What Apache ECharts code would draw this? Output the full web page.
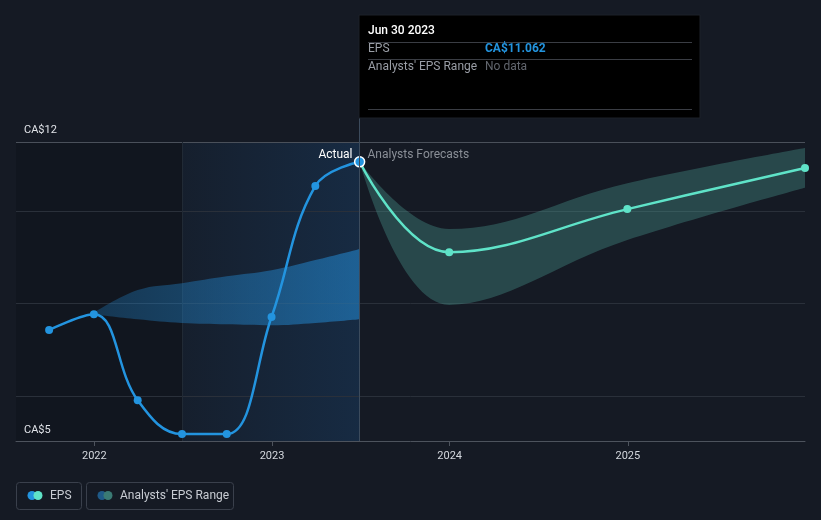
<!DOCTYPE html>
<html>
<head>
<meta charset="utf-8">
<script src="https://cdn.jsdelivr.net/npm/echarts@6/dist/echarts.min.js"></script>
<style>
html,body{margin:0;padding:0;background:#151a24;}
#chart{width:821px;height:520px;}
</style>
</head>
<body>
<div id="chart"></div>
<script>
// ---- data ----
const actualDates = ['2021-09-30','2021-12-31','2022-03-31','2022-06-30','2022-09-30','2022-12-31','2023-03-31','2023-06-30'];
const epsActual = [7.43, 7.77, 5.91, 5.18, 5.18, 7.71, 10.54, 11.062];
const forecastDates = ['2023-06-30','2023-12-31','2024-12-31','2025-12-31'];
const epsForecast = [11.062, 9.11, 10.04, 10.93];
const forecastLow = [11.062, 7.97, 9.37, 10.5];
const forecastHigh = [11.062, 9.61, 10.6, 11.36];
const pastRangeDates = ['2021-12-31','2022-03-31','2022-06-30','2022-09-30','2022-12-31','2023-03-31','2023-06-30'];
const pastRangeLow = [7.77, 7.66, 7.58, 7.55, 7.53, 7.58, 7.66];
const pastRangeHigh = [7.80, 8.29, 8.44, 8.59, 8.72, 8.94, 9.18];
const gridValues = [6, 8, 10];
const yMin = 5.03, yMax = 11.49;
const yLabelTop = 'CA$12', yLabelBottom = 'CA$5';
const xMin = '2021-07-24', xMax = '2025-12-31';
const pastStart = '2022-06-30', nowDate = '2023-06-30';

const ts = d => new Date(d + 'T00:00:00Z').getTime();
const pairs = (ds, vs) => ds.map((d, i) => [ts(d), vs[i]]);

const FONT = 'Roboto, "Noto Sans", sans-serif';
const BLUE = '#2394df', TEAL = '#5fe3c8';
const YEAR_MS = 365 * 24 * 3600 * 1000;

const chart = echarts.init(document.getElementById('chart'), null, {renderer: 'canvas', useUTC: true});

const option = {
  backgroundColor: '#151a24',
  animation: false,
  useUTC: true,
  textStyle: {fontFamily: FONT},
  grid: {left: 16, right: 16, top: 142, bottom: 79},
  xAxis: {
    type: 'time',
    min: ts(xMin), max: ts(xMax),
    minInterval: YEAR_MS,
    axisLine: {show: true, lineStyle: {color: '#4d535d', width: 1}},
    axisTick: {show: true, length: 5, lineStyle: {color: '#4d535d'}},
    axisLabel: {
      color: '#d4d8de', fontSize: 11, margin: 10, fontFamily: FONT,
      formatter: v => String(new Date(v).getUTCFullYear())
    },
    splitLine: {show: false}
  },
  yAxis: {
    type: 'value', min: yMin, max: yMax,
    axisLine: {show: false}, axisTick: {show: false}, axisLabel: {show: false},
    splitLine: {show: false}
  },
  series: [
    {
      type: 'line', data: [], silent: true, z: 1,
      markArea: {
        silent: true, z: 0,
        data: [
          [{xAxis: ts(xMin), itemStyle: {color: 'rgba(8,10,14,0.25)'}}, {xAxis: ts(pastStart)}],
          [{xAxis: ts(pastStart), itemStyle: {color: {type: 'linear', x: 0, y: 0, x2: 1, y2: 0,
            colorStops: [{offset: 0, color: 'rgba(30,110,190,0.06)'}, {offset: 1, color: 'rgba(30,110,190,0.2)'}]}}},
           {xAxis: ts(nowDate)}]
        ]
      },
      markLine: {
        silent: true, z: 1, symbol: 'none', label: {show: false},
        data: gridValues.map(v => ({yAxis: v, lineStyle: {color: '#2a303a', width: 1, type: 'solid'}}))
          .concat([{yAxis: yMax, lineStyle: {color: '#4a505a', width: 1, type: 'solid'}},
                   {xAxis: ts(pastStart), lineStyle: {color: '#212a35', width: 1, type: 'solid'}}])
      }
    },
    {
      name: 'pastLow', type: 'line', stack: 'past', smooth: 0.4, symbol: 'none', silent: true, z: 2,
      lineStyle: {opacity: 0}, data: pairs(pastRangeDates, pastRangeLow)
    },
    {
      name: 'pastRange', type: 'line', stack: 'past', smooth: 0.4, symbol: 'none', silent: true, z: 2,
      lineStyle: {opacity: 0},
      areaStyle: {color: {type: 'linear', x: 0, y: 0, x2: 1, y2: 0,
        colorStops: [{offset: 0, color: 'rgba(35,140,215,0.28)'}, {offset: 1, color: 'rgba(35,140,215,0.55)'}]}, opacity: 1},
      data: pairs(pastRangeDates, pastRangeHigh.map((v, i) => v - pastRangeLow[i]))
    },
    {
      name: 'fcLow', type: 'line', stack: 'fc', smooth: 0.4, symbol: 'none', silent: true, z: 2,
      lineStyle: {opacity: 0}, data: pairs(forecastDates, forecastLow)
    },
    {
      name: 'fcRange', type: 'line', stack: 'fc', smooth: 0.4, symbol: 'none', silent: true, z: 2,
      lineStyle: {opacity: 0},
      areaStyle: {color: 'rgba(80,170,160,0.32)', opacity: 1},
      data: pairs(forecastDates, forecastHigh.map((v, i) => v - forecastLow[i]))
    },
    {
      name: 'EPS forecast', type: 'line', smooth: 0.4, symbol: 'circle', symbolSize: 8, z: 3,
      showSymbol: true,
      lineStyle: {color: TEAL, width: 2.5}, itemStyle: {color: TEAL},
      data: pairs(forecastDates, epsForecast).map((p, i) => i === 0 ? {value: p, symbol: 'none'} : p)
    },
    {
      name: 'EPS', type: 'line', smooth: 0.4, symbol: 'circle', symbolSize: 8, z: 4,
      lineStyle: {color: BLUE, width: 2.5}, itemStyle: {color: BLUE},
      data: pairs(actualDates, epsActual).map((p, i) => i === epsActual.length - 1
        ? {value: p, symbolSize: 10, itemStyle: {color: BLUE, borderColor: '#ffffff', borderWidth: 1.5}} : p)
    }
  ]
};
chart.setOption(option);

const nowPx = chart.convertToPixel({xAxisIndex: 0, yAxisIndex: 0}, [ts(nowDate), epsActual[epsActual.length - 1]]);
const axisBottom = chart.convertToPixel({yAxisIndex: 0}, yMin);
const axisTop = chart.convertToPixel({yAxisIndex: 0}, yMax);
const nx = Math.round(nowPx[0]) - 0.5;
const tipX = nx - 0.5, tipY = 15, tipW = 341, tipH = 103;

chart.setOption({
  graphic: [
    {type: 'line', silent: true, z: 50, shape: {x1: nx, y1: tipY, x2: nx, y2: axisBottom}, style: {stroke: '#3c4b5c', lineWidth: 1}},
    {type: 'rect', z: 60, shape: {x: tipX, y: tipY, width: tipW, height: tipH}, style: {fill: '#000000', stroke: '#1c2028', lineWidth: 1}},
    {type: 'text', z: 61, x: tipX + 9, y: tipY + 16, style: {text: 'Jun 30 2023', fill: '#ffffff', font: '500 12px ' + FONT, textVerticalAlign: 'middle'}},
    {type: 'line', z: 61, shape: {x1: tipX + 9, y1: tipY + 27.5, x2: tipX + 333, y2: tipY + 27.5}, style: {stroke: '#3a3d44', lineWidth: 1}},
    {type: 'text', z: 61, x: tipX + 9, y: tipY + 34, style: {text: 'EPS', fill: '#9a9ea6', font: '12px ' + FONT, textVerticalAlign: 'middle'}},
    {type: 'text', z: 61, x: tipX + 126, y: tipY + 34, style: {text: 'CA$11.062', fill: BLUE, font: 'bold 12px ' + FONT, textVerticalAlign: 'middle'}},
    {type: 'line', z: 61, shape: {x1: tipX + 9, y1: tipY + 44.5, x2: tipX + 333, y2: tipY + 44.5}, style: {stroke: '#3a3d44', lineWidth: 1}},
    {type: 'text', z: 61, x: tipX + 9, y: tipY + 52, style: {text: "Analysts' EPS Range", fill: '#9a9ea6', font: '12px ' + FONT, textVerticalAlign: 'middle'}},
    {type: 'text', z: 61, x: tipX + 126, y: tipY + 52, style: {text: 'No data', fill: '#62666e', font: '12px ' + FONT, textVerticalAlign: 'middle'}},
    {type: 'line', z: 61, shape: {x1: tipX + 9, y1: tipY + 94.5, x2: tipX + 333, y2: tipY + 94.5}, style: {stroke: '#3a3d44', lineWidth: 1}},

    {type: 'text', z: 40, x: nx - 7, y: nowPx[1] - 7, style: {text: 'Actual', fill: '#ffffff', font: '12px ' + FONT, textAlign: 'right', textVerticalAlign: 'middle'}},
    {type: 'text', z: 40, x: nx + 8, y: nowPx[1] - 7, style: {text: 'Analysts Forecasts', fill: '#8a8f97', font: '12px ' + FONT, textAlign: 'left', textVerticalAlign: 'middle'}},

    {type: 'text', z: 40, x: 24, y: axisTop - 12, style: {text: yLabelTop, fill: '#e0e3e8', font: '11px ' + FONT, textVerticalAlign: 'middle'}},
    {type: 'text', z: 40, x: 24, y: axisBottom - 11, style: {text: yLabelBottom, fill: '#e0e3e8', font: '11px ' + FONT, textVerticalAlign: 'middle'}},

    {type: 'rect', z: 40, shape: {x: 16.5, y: 482.5, width: 65, height: 27, r: 3}, style: {fill: 'transparent', stroke: '#3a404c', lineWidth: 1}},
    {type: 'circle', z: 41, shape: {cx: 32, cy: 495.5, r: 4.5}, style: {fill: BLUE}},
    {type: 'circle', z: 42, shape: {cx: 38, cy: 495.5, r: 4.5}, style: {fill: TEAL}},
    {type: 'text', z: 41, x: 50, y: 495.5, style: {text: 'EPS', fill: '#c8ccd3', font: '12px ' + FONT, textVerticalAlign: 'middle'}},
    {type: 'rect', z: 40, shape: {x: 86.5, y: 482.5, width: 147, height: 27, r: 3}, style: {fill: 'transparent', stroke: '#3a404c', lineWidth: 1}},
    {type: 'circle', z: 41, shape: {cx: 102, cy: 495.5, r: 4.5}, style: {fill: '#1f5a88'}},
    {type: 'circle', z: 42, shape: {cx: 108, cy: 495.5, r: 4.5}, style: {fill: '#3a7a74'}},
    {type: 'text', z: 41, x: 120, y: 495.5, style: {text: "Analysts' EPS Range", fill: '#c8ccd3', font: '12px ' + FONT, textVerticalAlign: 'middle'}}
  ]
});
</script>
</body>
</html>
